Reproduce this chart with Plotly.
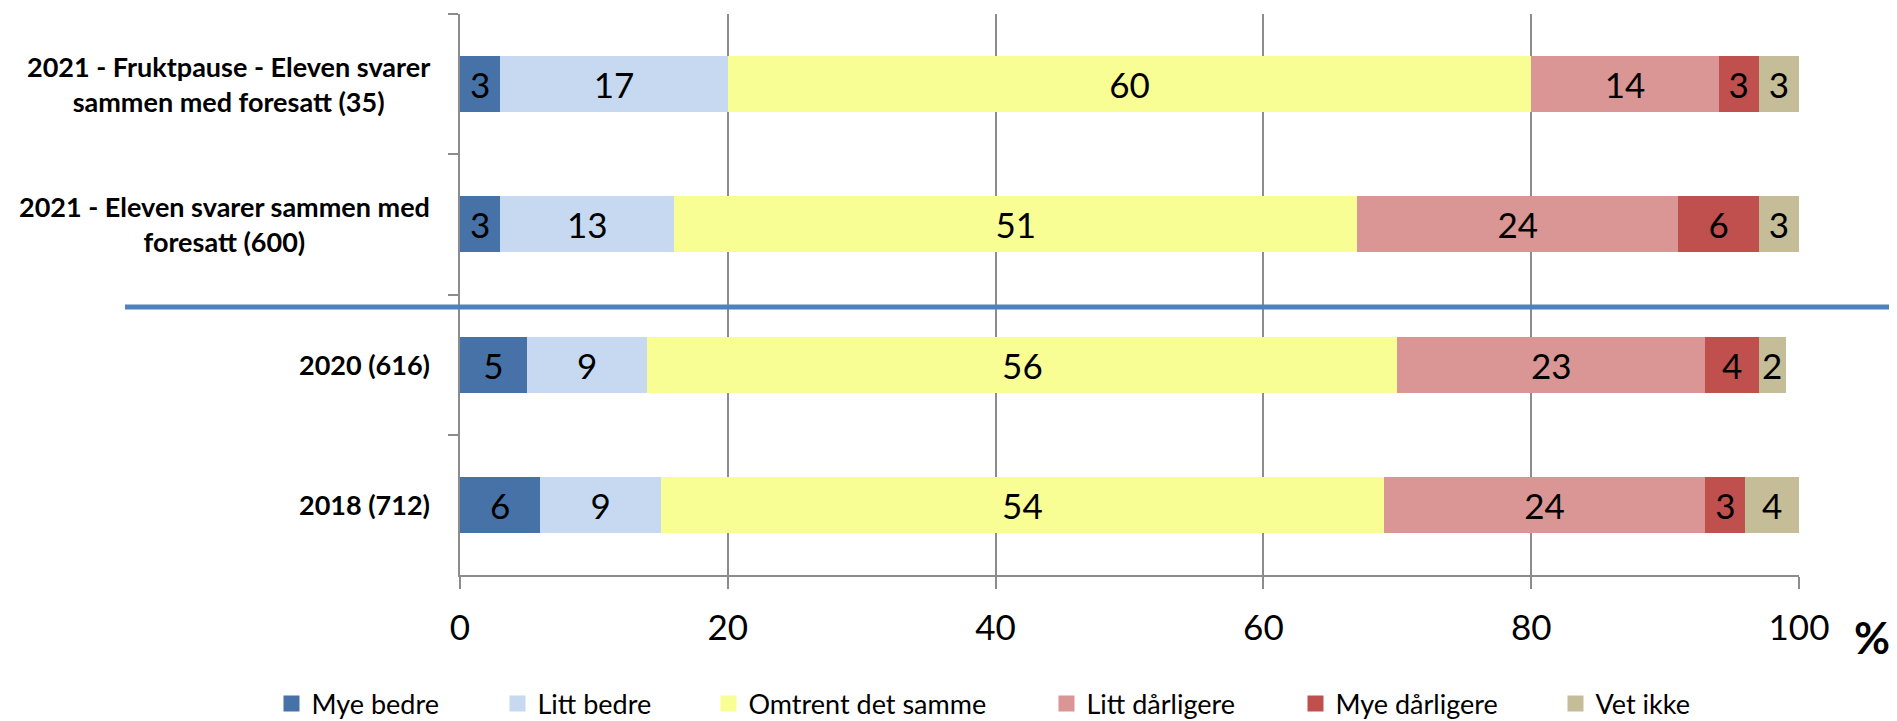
import plotly.graph_objects as go

categories = [
    "2021 - Fruktpause - Eleven svarer<br>sammen med foresatt (35)",
    "2021 - Eleven svarer sammen med<br>foresatt (600)",
    "2020 (616)",
    "2018 (712)",
]
series_names = ["Mye bedre", "Litt bedre", "Omtrent det samme", "Litt dårligere", "Mye dårligere", "Vet ikke"]
mye_bedre = [3, 3, 5, 6]
litt_bedre = [17, 13, 9, 9]
omtrent = [60, 51, 56, 54]
litt_darligere = [14, 24, 23, 24]
mye_darligere = [3, 6, 4, 3]
vet_ikke = [3, 3, 2, 4]
x_ticks = [0, 20, 40, 60, 80, 100]

series_values = [mye_bedre, litt_bedre, omtrent, litt_darligere, mye_darligere, vet_ikke]
colors = ["#4672A8", "#C6D9F1", "#F8FD94", "#DA9694", "#C0504D", "#C4BD97"]

OFF = 8  # default page body margin
W, H = 1897 - OFF, 721 - OFF
L, T = 460 - OFF, 14 - OFF
R = W - (1799 - OFF)
B = H - (575 - OFF)
pw = W - L - R
ph = H - T - B

def px2x(px):
    return (px - OFF - L) / pw

def py2y(py):
    return (H - B - (py - OFF)) / ph

FONT = "Lato"
fig = go.Figure()
legend_sq_left = [283, 509, 720, 1058, 1307, 1567]
for i, (name, vals, col) in enumerate(zip(series_names, series_values, colors)):
    lg = "legend" if i == 0 else f"legend{i+1}"
    fig.add_trace(go.Bar(
        y=categories, x=vals, name=name, orientation="h",
        marker=dict(color=col, line=dict(width=0)),
        text=vals, texttemplate="%{x}", textposition="inside",
        insidetextanchor="middle", constraintext="none",
        textfont=dict(family=FONT, size=35, color="black"),
        showlegend=False, legendgroup=name, hoverinfo="skip",
    ))
    # legend proxy with a larger square swatch
    fig.add_trace(go.Scatter(
        x=[None], y=[None], mode="markers", name=name, legendgroup=name,
        marker=dict(symbol="square", size=17, color=col, line=dict(width=0)),
        legend=lg, hoverinfo="skip",
    ))

layout_legends = {}
for i, sq in enumerate(legend_sq_left):
    key = "legend" if i == 0 else f"legend{i+1}"
    layout_legends[key] = dict(
        x=px2x(sq + 8.5 - 20), y=py2y(704), xanchor="left", yanchor="middle",
        orientation="h", font=dict(family=FONT, size=27, color="black"),
        bgcolor="rgba(0,0,0,0)", borderwidth=0, itemsizing="trace",
    )

annotations = []
for c in categories:
    annotations.append(dict(
        x=px2x(432), xref="paper", y=c, yref="y", xanchor="right", yanchor="middle",
        text=f"<b>{c}</b>", showarrow=False, align="center",
        font=dict(family=FONT, size=27, color="black"),
    ))
annotations.append(dict(
    x=px2x(1872), xref="paper", y=py2y(637), yref="paper", xanchor="center", yanchor="middle",
    text="<b>%</b>", showarrow=False, font=dict(family=FONT, size=44, color="black"),
))

fig.update_layout(
    width=W, height=H, barmode="stack", bargap=0.6,
    margin=dict(l=L, r=R, t=T, b=B, pad=0, autoexpand=False),
    plot_bgcolor="white", paper_bgcolor="white",
    showlegend=True,
    annotations=annotations,
    shapes=[dict(type="line", xref="paper", yref="paper",
                 x0=px2x(125), x1=px2x(1897), y0=py2y(307), y1=py2y(307),
                 line=dict(color="#4F81BD", width=5))],
    **layout_legends,
)
fig.update_xaxes(
    range=[0, 100], tickvals=x_ticks, ticktext=[str(v) for v in x_ticks],
    showgrid=True, gridcolor="#8C8C8C", gridwidth=1.5,
    showline=True, linecolor="#8C8C8C", linewidth=2,
    ticks="outside", ticklen=12, tickcolor="#8C8C8C", tickwidth=2,
    tickfont=dict(family=FONT, size=35, color="black"), ticklabelstandoff=9,
    zeroline=False, fixedrange=True,
)
fig.update_yaxes(
    categoryorder="array", categoryarray=categories, autorange="reversed",
    showticklabels=False, showgrid=False,
    showline=True, linecolor="#8C8C8C", linewidth=2,
    ticks="outside", ticklen=10, tickcolor="#8C8C8C", tickwidth=2,
    tickson="boundaries", zeroline=False, fixedrange=True,
)
fig.write_html("out.html")
